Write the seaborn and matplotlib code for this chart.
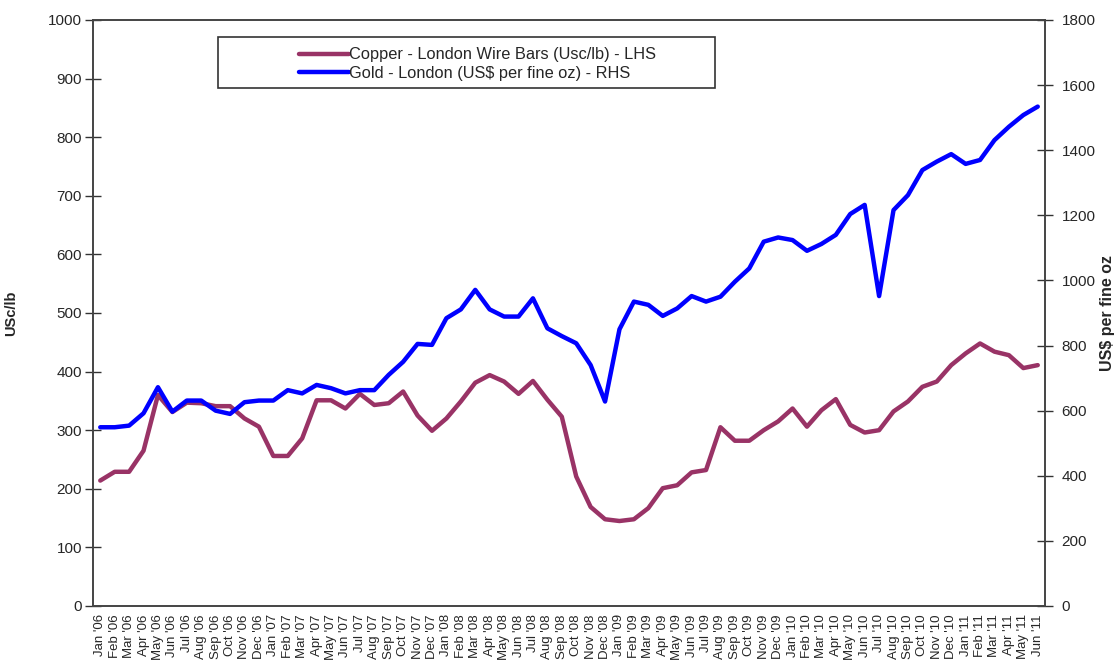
import pandas as pd
import seaborn as sns
from matplotlib import pyplot as plt
from matplotlib.patches import Rectangle

# Monthly labels Jan '06 .. Jun '11
months = ["Jan", "Feb", "Mar", "Apr", "May", "Jun", "Jul", "Aug", "Sep", "Oct", "Nov", "Dec"]
years = ["06", "07", "08", "09", "10", "11"]
labels = [f"{m} '{y}" for y in years for m in months][:66]

# Copper - London Wire Bars (USc/lb), left axis
copper = [214, 229, 229, 265, 360, 331, 347, 346, 341, 341, 320, 306,
          256, 256, 286, 351, 351, 337, 362, 343, 346, 366, 325, 299,
          320, 349, 381, 394, 383, 362, 384, 352, 323, 221, 169, 148,
          145, 148, 167, 201, 206, 228, 232, 305, 282, 282, 300, 315,
          337, 306, 334, 353, 309, 296, 300, 332, 349, 374, 383, 411,
          431, 448, 434, 428, 406, 411]

# Gold - London (US$ per fine oz), right axis
gold = [549, 549, 554, 592, 672, 597, 631, 631, 600, 590, 626, 631,
        631, 663, 653, 679, 669, 653, 663, 663, 710, 750, 805, 802,
        884, 911, 971, 911, 889, 889, 945, 853, 829, 807, 740, 628,
        850, 935, 925, 891, 914, 952, 935, 950, 996, 1037, 1119, 1132,
        1124, 1091, 1112, 1140, 1204, 1232, 952, 1216, 1262, 1339, 1365, 1388,
        1358, 1370, 1431, 1472, 1508, 1534]

df = pd.DataFrame({"idx": range(len(labels)), "label": labels,
                   "copper": copper, "gold": gold})

sns.set_style("white")
plt.rcParams['font.family'] = ['Liberation Sans', 'DejaVu Sans']

fig = plt.figure(figsize=(11.17, 6.71), dpi=100)
ax = fig.add_axes([0.0833, 0.0969, 0.8522, 0.8733])
ax2 = ax.twinx()

copper_col = "#993366"
gold_col = "#0000FF"

sns.lineplot(x="idx", y="copper", data=df, ax=ax, color=copper_col, lw=3.2,
             label="Copper - London Wire Bars (Usc/lb) - LHS", legend=False)
sns.lineplot(x="idx", y="gold", data=df, ax=ax2, color=gold_col, lw=3.2,
             label="Gold - London (US$ per fine oz) - RHS", legend=False)

ax.set_xlim(-0.5, len(labels) - 0.5)
ax.set_ylim(0, 1000)
ax2.set_ylim(0, 1800)
ax.set_yticks(range(0, 1001, 100))
ax2.set_yticks(range(0, 1801, 200))

ax.set_xticks(df["idx"])
ax.set_xticklabels(labels, rotation=90, fontsize=9.5)
ax.set_xticks([i - 0.5 for i in range(len(labels) + 1)], minor=True)
ax.tick_params(axis="x", which="major", length=0, pad=6)
ax.tick_params(axis="x", which="minor", length=8, direction="inout", width=1, color="#333333")
ax.tick_params(axis="y", length=12, direction="inout", width=1, color="#333333", labelsize=11, pad=2)
ax2.tick_params(axis="y", length=12, direction="inout", width=1, color="#333333", labelsize=11, pad=6)

ax.set_xlabel("")
ax.set_ylabel("USc/lb", fontsize=10.5, fontweight="bold")
ax2.set_ylabel("US$ per fine oz", fontsize=11.5, fontweight="bold")
ax.yaxis.set_label_coords(-0.079, 0.5)
ax2.yaxis.set_label_coords(1.058, 0.5)

for a in (ax, ax2):
    for s in a.spines.values():
        s.set_color("#444444")
        s.set_linewidth(1.2)

# legend box drawn in figure pixels like the reference
fig.patches.append(Rectangle((218 / 1117, 1 - 88 / 671), (715 - 218) / 1117, 51 / 671,
                             transform=fig.transFigure, facecolor="white",
                             edgecolor="#333333", lw=1.2, zorder=5))
h1, l1 = ax.get_legend_handles_labels()
h2, l2 = ax2.get_legend_handles_labels()
leg = fig.legend(h1 + h2, l1 + l2, loc="upper left",
                 bbox_to_anchor=(288 / 1117, 1 - 36 / 671),
                 fontsize=11.8, frameon=False,
                 handlelength=3.0, handletextpad=0.0, borderpad=0.2, labelspacing=0.2)
leg.set_zorder(6)

plt.savefig("out.png", dpi=100)
